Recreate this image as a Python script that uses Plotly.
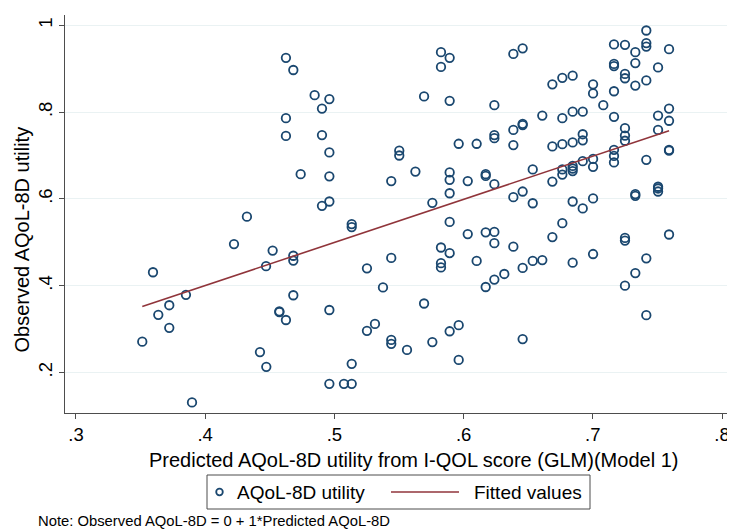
import plotly.graph_objects as go
import numpy as np

# Predicted AQoL-8D utility (x) and observed AQoL-8D utility (y)
pred_x = [
    .4625, .4682, .4625, .4625, .4323, .4223, .4522, .4471, .3596, .3851,
    .3722, .3637, .3722, .3513, .4574, .4574, .4625, .4424, .4473, .3898,
    .4847, .4961, .4904, .4739, .4904, .4961, .4961, .4961, .4904, .5134,
    .5134, .4682, .4682, .4682, .4961, .5252, .5440, .5376, .5252, .5314,
    .5440, .5440, .5562, .5134, .4961, .5074, .5134, .5502, .5502, .5627,
    .5440, .5694, .5825, .5892, .5825, .5892, .5962, .6101, .6238, .6238,
    .6238, .5892, .5892, .5892, .6032, .6171, .6171, .6238, .5758, .5892,
    .6032, .6171, .6238, .6238, .5825, .5892, .5825, .5825, .6101, .6171,
    .6238, .6315, .5694, .5892, .5962, .5758, .5962,
    .6385, .6457, .6385, .6457, .6457, .6385, .6535, .6385, .6457, .6535,
    .6385, .6457, .6535, .6609, .6457, .6609, .6687, .6764, .6844, .6764,
    .6844, .6922, .6687, .6764, .6844, .6922, .6922, .6687, .6764, .6764,
    .6844, .6844, .6844, .6922, .7002, .7002, .6687, .6764, .6844, .6922,
    .7002, .6844, .7002, .7002, .7002, .7081, .7164, .7164, .7164, .7164,
    .7164, .7164, .7164, .7164, .7249, .7249, .7249, .7249, .7249, .7249,
    .7249, .7249, .7249, .7329, .7329, .7329, .7329, .7329, .7329, .7414,
    .7414, .7414, .7414, .7414, .7414, .7414, .7505, .7505, .7505, .7505,
    .7505, .7505, .7590, .7590, .7590, .7590, .7590, .7590,
]
obs_y = [
    .925, .897, .786, .745, .559, .496, .481, .445, .431, .379,
    .355, .333, .303, .271, .341, .339, .321, .247, .213, .131,
    .839, .830, .808, .657, .747, .707, .652, .594, .584, .542,
    .535, .469, .458, .378, .344, .440, .464, .396, .296, .312,
    .275, .266, .252, .220, .174, .174, .174, .711, .700, .663,
    .641, .836, .938, .925, .904, .826, .727, .727, .816, .747,
    .740, .661, .644, .613, .641, .657, .653, .634, .591, .547,
    .519, .523, .524, .498, .488, .475, .452, .442, .457, .397,
    .414, .427, .359, .295, .309, .270, .229,
    .934, .947, .759, .773, .770, .724, .668, .604, .617, .590,
    .490, .441, .457, .459, .277, .792, .864, .879, .884, .786,
    .801, .801, .721, .726, .730, .749, .735, .640, .668, .656,
    .676, .670, .664, .687, .692, .674, .512, .544, .594, .578,
    .601, .453, .473, .864, .843, .816, .956, .911, .906, .848,
    .789, .713, .699, .684, .955, .888, .878, .763, .746, .734,
    .510, .504, .400, .938, .913, .861, .611, .607, .429, .988,
    .959, .951, .873, .690, .463, .332, .903, .792, .759, .628,
    .624, .617, .945, .808, .780, .713, .711, .518,
]

# Fitted regression line (observed on predicted)
fit_intercept = 0.0030
fit_slope = 0.9934

x_ticks = [0.3, 0.4, 0.5, 0.6, 0.7, 0.8]
x_tick_labels = [".3", ".4", ".5", ".6", ".7", ".8"]
y_ticks = [0.2, 0.4, 0.6, 0.8, 1.0]
y_tick_labels = [".2", ".4", ".6", ".8", "1"]

series_names = ["AQoL-8D utility", "Fitted values"]

FONT = "Liberation Sans, Arial, Helvetica, sans-serif"
NAVY = "#1a476f"
MAROON = "#90353b"
AXIS = "#4d4d4d"

fx = np.array([min(pred_x), max(pred_x)])
fy = fit_intercept + fit_slope * fx

fig = go.Figure()
fig.add_trace(go.Scatter(
    x=pred_x, y=obs_y, mode="markers", name=series_names[0],
    marker=dict(symbol="circle-open", size=8.5, color=NAVY,
                line=dict(color=NAVY, width=1.8)),
    showlegend=False,
))
fig.add_trace(go.Scatter(
    x=fx, y=fy, mode="lines", name=series_names[1],
    line=dict(color=MAROON, width=1.6),
    showlegend=False,
))

# page has an 8px body margin: figure is sized/offset to compensate
OFF = 8
PAGE_W, PAGE_H = 735, 531
W, H = PAGE_W - OFF, PAGE_H - OFF
PL, PR, PT, PB = 65, 733, 15, 413          # plot area in page pixels
L, R, T, B = PL - OFF, PAGE_W - PR, PT - OFF, PAGE_H - PB
pw, ph = PR - PL, PB - PT

def px_x(p):
    return (p - PL) / pw

def px_y(p):
    return (PB - p) / ph

# legend drawn as a boxed key below the plot
leg_y = px_y(492)
shapes = [
    dict(type="rect", xref="paper", yref="paper",
         x0=px_x(207), x1=px_x(590), y0=px_y(475), y1=px_y(509),
         line=dict(color=AXIS, width=1), fillcolor="white", layer="above"),
    dict(type="circle", xref="paper", yref="paper",
         xsizemode="pixel", ysizemode="pixel",
         xanchor=px_x(219.5), yanchor=leg_y,
         x0=-3.3, x1=3.3, y0=-3.3, y1=3.3,
         line=dict(color=NAVY, width=1.8), layer="above"),
    dict(type="line", xref="paper", yref="paper",
         x0=px_x(391), x1=px_x(459), y0=leg_y, y1=leg_y,
         line=dict(color=MAROON, width=1.6), layer="above"),
]

fig.update_layout(
    width=W, height=H,
    margin=dict(l=L, r=R, t=T, b=B, autoexpand=False),
    paper_bgcolor="white", plot_bgcolor="white",
    font=dict(family=FONT, color="black", size=18),
    showlegend=False,
    xaxis=dict(
        range=[0.2915, 0.8085], tickvals=x_ticks, ticktext=x_tick_labels,
        showgrid=False, zeroline=False, showline=True, linecolor=AXIS,
        linewidth=1, ticks="outside", ticklen=5, tickcolor=AXIS,
        tickfont=dict(size=18.5), automargin=False,
    ),
    yaxis=dict(
        range=[0.1067, 1.0237], tickvals=y_ticks, ticktext=y_tick_labels,
        showgrid=True, gridcolor="#eaf2f3", gridwidth=1,
        zeroline=False, showline=True, linecolor=AXIS, linewidth=1,
        ticks="outside", ticklen=5, tickcolor=AXIS, tickangle=-90,
        tickfont=dict(size=18.5), automargin=False,
    ),
    shapes=shapes,
    annotations=[
        dict(text="Predicted AQoL-8D utility from I-QOL score (GLM)(Model 1)",
             xref="paper", yref="paper", x=px_x(413.5), y=px_y(460),
             xanchor="center", yanchor="middle", showarrow=False,
             font=dict(size=20, family=FONT)),
        dict(text="Observed AQoL-8D utility",
             xref="paper", yref="paper", x=px_x(21), y=px_y(239.5),
             xanchor="center", yanchor="middle", showarrow=False,
             textangle=-90, borderpad=0, font=dict(size=20, family=FONT)),
        dict(text=series_names[0],
             xref="paper", yref="paper", x=px_x(235), y=leg_y,
             xanchor="left", yanchor="middle", showarrow=False,
             font=dict(size=19, family=FONT)),
        dict(text=series_names[1],
             xref="paper", yref="paper", x=px_x(472), y=leg_y,
             xanchor="left", yanchor="middle", showarrow=False,
             font=dict(size=19, family=FONT)),
        dict(text="Note: Observed AQoL-8D = 0 + 1*Predicted AQoL-8D",
             xref="paper", yref="paper", x=px_x(36), y=px_y(521),
             xanchor="left", yanchor="middle", showarrow=False,
             font=dict(size=14.8, family=FONT)),
    ],
)

fig.write_html("out.html")
